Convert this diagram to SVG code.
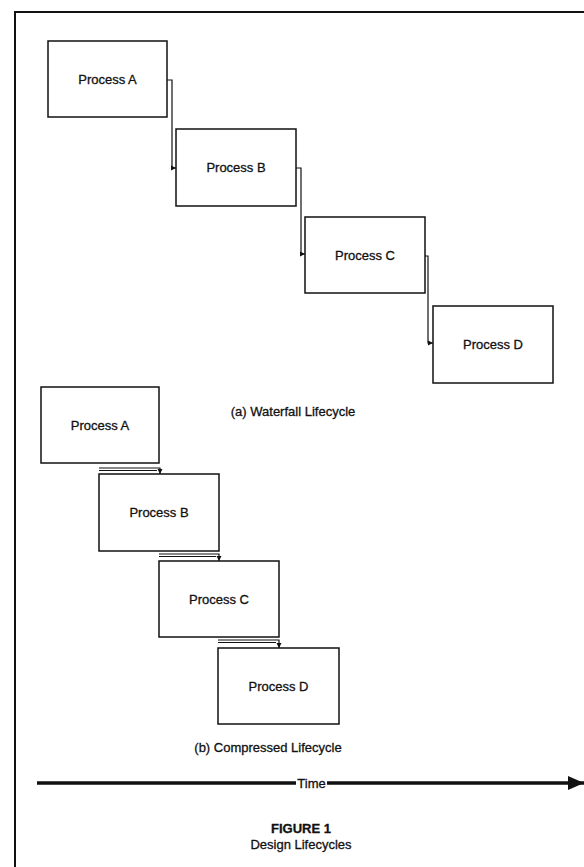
<svg xmlns="http://www.w3.org/2000/svg" width="584" height="867" viewBox="0 0 584 867">
<defs>
<style>
.box{fill:#fff;stroke:#111;stroke-width:1.5}
.lbl{font-family:"Liberation Sans",Arial,sans-serif;font-size:13px;fill:#111;stroke:#111;stroke-width:0.3;text-anchor:middle}
.con{fill:none;stroke:#111;stroke-width:1.2}
.frame{fill:none;stroke:#111;stroke-width:2}
</style>
<marker id="ah" viewBox="0 0 10 10" refX="10" refY="5" markerWidth="5.5" markerHeight="5.5" markerUnits="userSpaceOnUse" orient="auto">
<path d="M0,0 L10,5 L0,10 Z" fill="#111"/>
</marker>
<marker id="big" viewBox="0 0 10 10" refX="10" refY="5" markerWidth="16" markerHeight="14" markerUnits="userSpaceOnUse" orient="auto" preserveAspectRatio="none">
<path d="M0,0 L10,5 L0,10 Z" fill="#111"/>
</marker>
</defs>
<path class="frame" d="M15,867 V12 H584"/>
<g id="wA"><rect class="box" x="48" y="41" width="119" height="76"/><text class="lbl" x="107.5" y="83.5">Process A</text></g>
<g id="wB"><rect class="box" x="176" y="129" width="120" height="77"/><text class="lbl" x="236" y="172">Process B</text></g>
<g id="wC"><rect class="box" x="305" y="217" width="120" height="76"/><text class="lbl" x="365" y="259.5">Process C</text></g>
<g id="wD"><rect class="box" x="433" y="306" width="120" height="77"/><text class="lbl" x="493" y="349">Process D</text></g>
<g id="cA"><rect class="box" x="41" y="387" width="118" height="76"/><text class="lbl" x="100" y="429.5">Process A</text></g>
<g id="cB"><rect class="box" x="99" y="474" width="120" height="77"/><text class="lbl" x="159" y="517">Process B</text></g>
<g id="cC"><rect class="box" x="159" y="561" width="120" height="76"/><text class="lbl" x="219" y="603.5">Process C</text></g>
<g id="cD"><rect class="box" x="218" y="648" width="121" height="76"/><text class="lbl" x="278.5" y="690.5">Process D</text></g>
<g id="connectors">
<path class="con" d="M167,80 H172 V168 H176" marker-end="url(#ah)"/>
<path class="con" d="M296,168 H301 V254 H305" marker-end="url(#ah)"/>
<path class="con" d="M425,256 H428 V343 H433" marker-end="url(#ah)"/>
<path class="con" d="M99,468 H160 V474" marker-end="url(#ah)"/>
<path class="con" d="M99,470.5 H157" stroke-width="0.8"/>
<path class="con" d="M159,554 H219 V561" marker-end="url(#ah)"/>
<path class="con" d="M159,556.5 H216" stroke-width="0.8"/>
<path class="con" d="M218,640 H279 V648" marker-end="url(#ah)"/>
<path class="con" d="M218,642.5 H276" stroke-width="0.8"/>
</g>
<text class="lbl" x="293" y="416" font-size="12.5">(a) Waterfall Lifecycle</text>
<text class="lbl" x="268" y="752" font-size="12.5">(b) Compressed Lifecycle</text>
<g id="time">
<line x1="37" y1="783" x2="296" y2="783" stroke="#111" stroke-width="3.5"/>
<line x1="327" y1="783" x2="584" y2="783" stroke="#111" stroke-width="3.5" marker-end="url(#big)"/>
<text class="lbl" x="311.5" y="787.5" font-size="12.5" stroke-width="0.4">Time</text>
</g>
<text class="lbl" x="301" y="833" font-weight="bold" font-size="18" stroke-width="0">FIGURE 1</text>
<text class="lbl" x="301" y="849" font-size="14" stroke-width="0.1">Design Lifecycles</text>
</svg>
